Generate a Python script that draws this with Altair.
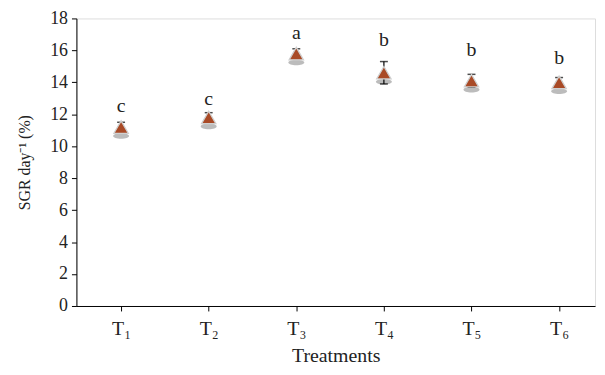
import altair as alt
import pandas as pd

treatments = ["T₁", "T₂", "T₃", "T₄", "T₅", "T₆"]
sgr = [11.2, 11.8, 15.8, 14.6, 14.1, 14.0]
err = [0.3, 0.3, 0.3, 0.7, 0.4, 0.3]
letters = ["c", "c", "a", "b", "b", "b"]
letter_y = [12.5, 12.95, 17.1, 16.65, 16.05, 15.55]
y_ticks = [0, 2, 4, 6, 8, 10, 12, 14, 16, 18]

idx = list(range(1, len(treatments) + 1))
df = pd.DataFrame({
    "idx": idx,
    "t": treatments,
    "sgr": sgr,
    "lo": [s - e for s, e in zip(sgr, err)],
    "hi": [s + e for s, e in zip(sgr, err)],
    "letter": letters,
    "ly": letter_y,
})

FONT = "Liberation Serif"
label_expr = "[" + ",".join("'" + t + "'" for t in treatments) + "][datum.value-1]"

xscale = alt.Scale(domain=[0.49, 6.41], nice=False, zero=False)
yscale = alt.Scale(domain=[0, 18], nice=False)

x_axis = alt.Axis(values=idx, labelExpr=label_expr, title="Treatments",
                  grid=False, domainColor="black", tickColor="black", tickSize=5,
                  labelFont=FONT, labelFontSize=20, labelColor="#222",
                  labelOverlap=False, labelPadding=8, titleFont=FONT, titleFontSize=20,
                  titleFontWeight="normal", titleColor="#222", titlePadding=7)
y_axis = alt.Axis(values=y_ticks, tickCount=10, title="SGR day⁻¹ (%)", grid=False,
                  domainColor="black", tickColor="black", tickSize=5,
                  labelFont=FONT, labelFontSize=18, labelColor="#222",
                  labelOverlap=False, labelFlush=False,
                  labelPadding=4, titleFont=FONT, titleFontSize=16,
                  titleFontWeight="normal", titleColor="#222", titlePadding=17)


def X(field):
    return alt.X(field, scale=xscale, axis=x_axis)


def Y(field):
    return alt.Y(field, scale=yscale, axis=y_axis)


base = alt.Chart(df)

shadow = base.mark_point(
    shape="M-1,0A1,0.35,0,1,0,1,0A1,0.35,0,1,0,-1,0Z",
    filled=True, color="#7a7a7a", opacity=0.5, size=260, yOffset=9,
).encode(x=X("idx:Q"), y=Y("sgr:Q"))

rule = base.mark_rule(color="black", strokeWidth=1.2).encode(
    x=X("idx:Q"), y=Y("lo:Q"), y2="hi:Q")
cap_hi = base.mark_tick(color="black", orient="horizontal", size=8, thickness=1.5).encode(
    x=X("idx:Q"), y=Y("hi:Q"))
cap_lo = base.mark_tick(color="black", orient="horizontal", size=8, thickness=1.5).encode(
    x=X("idx:Q"), y=Y("lo:Q"))

tri = base.mark_point(
    shape="triangle-up", filled=True, fill="#a94a26", stroke="#d0d0d0",
    strokeWidth=1.3, size=210, opacity=1,
).encode(x=X("idx:Q"), y=Y("sgr:Q"))

txt = base.mark_text(font=FONT, fontSize=20, color="#222", baseline="middle").encode(
    x=X("idx:Q"), y=Y("ly:Q"), text="letter:N")

chart = alt.layer(shadow, rule, cap_hi, cap_lo, tri, txt).properties(
    width=523, height=290,
    autosize=alt.AutoSizeParams(type="none"),
    padding={"left": 69, "top": 9, "right": 2, "bottom": 60},
).configure_view(stroke=None).configure(background="white")

chart.save("out.html", embed_options={"renderer": "svg", "actions": False})
